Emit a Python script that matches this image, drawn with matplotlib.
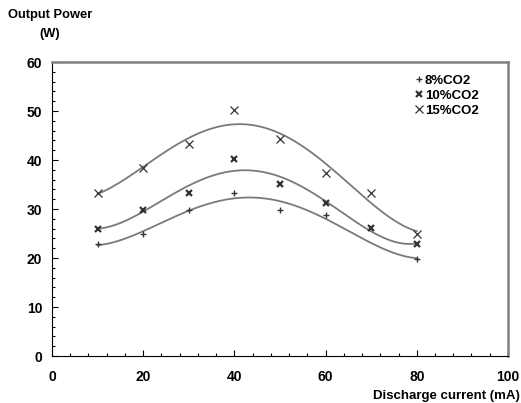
import matplotlib
matplotlib.use('Agg')
import matplotlib.pyplot as plt
import numpy as np
from matplotlib.ticker import MultipleLocator

plt.rcParams['font.family'] = 'Liberation Sans'
plt.rcParams['font.weight'] = 'bold'

# measured points
x8 = [10, 20, 30, 40, 50, 60, 80]
y8 = [22.8, 24.9, 29.9, 33.3, 29.9, 28.8, 19.9]
x10 = [10, 20, 30, 40, 50, 60, 70, 80]
y10 = [26.0, 29.8, 33.3, 40.2, 35.2, 31.3, 26.1, 22.8]
x15 = [10, 20, 30, 40, 50, 60, 70, 80]
y15 = [33.3, 38.3, 43.3, 50.2, 44.3, 37.3, 33.3, 24.9]
labels = ['8%CO2', '10%CO2', '15%CO2']

line_col = '#7a7a7a'
mark_col = '#333333'

fig = plt.figure(figsize=(5.21, 4.03), dpi=100)
ax = fig.add_axes([0.0998, 0.1166, 0.8752, 0.7294])

series = [(x8, y8, '+', 5, 1.0), (x10, y10, 'x', 4, 1.6), (x15, y15, 'x', 6, 0.9)]
handles = []
for (xs, ys, mk, ms, mew), lab in zip(series, labels):
    # polynomial trend line like the spreadsheet one
    c = np.polyfit(xs, ys, 4)
    xf = np.linspace(min(xs), max(xs), 200)
    ax.plot(xf, np.polyval(c, xf), color=line_col, lw=1.3)
    h, = ax.plot(xs, ys, linestyle='none', marker=mk, ms=ms, mew=mew,
                 color=mark_col, label=lab)
    handles.append(h)

ax.set_xlim(0, 100)
ax.set_ylim(0, 60)
ax.xaxis.set_major_locator(MultipleLocator(20))
ax.xaxis.set_minor_locator(MultipleLocator(4))
ax.yaxis.set_major_locator(MultipleLocator(10))
ax.yaxis.set_minor_locator(MultipleLocator(2))
ax.tick_params(which='both', direction='in', labelsize=10, width=0.8)
ax.tick_params(which='major', length=4)
ax.tick_params(which='minor', length=2)
ax.tick_params(axis='x', pad=10)
ax.tick_params(axis='y', pad=7)
for lab in ax.get_xticklabels() + ax.get_yticklabels():
    lab.set_fontweight('bold')

ax.spines['left'].set_color('black')
ax.spines['bottom'].set_color('black')
ax.spines['top'].set_color('#808080')
ax.spines['right'].set_color('#808080')
ax.spines['top'].set_linewidth(1.8)
ax.spines['right'].set_linewidth(1.8)

ax.legend(handles=handles, loc='upper left', frameon=False,
          handlelength=0.5, handletextpad=0.25, labelspacing=0.2,
          borderaxespad=0, bbox_to_anchor=(0.785, 0.975),
          prop={'weight': 'bold', 'size': 9.5})

fig.text(8/521, 1 - 15/403, 'Output Power', fontsize=9.3, fontweight='bold', va='center')
fig.text(39/521, 1 - 34/403, '(W)', fontsize=9.3, fontweight='bold', va='center')
fig.text(520/521, 1 - 396/403, 'Discharge current (mA)', fontsize=9.5,
         fontweight='bold', ha='right', va='center')

fig.savefig('out.png', dpi=100)
plt.close('all')
